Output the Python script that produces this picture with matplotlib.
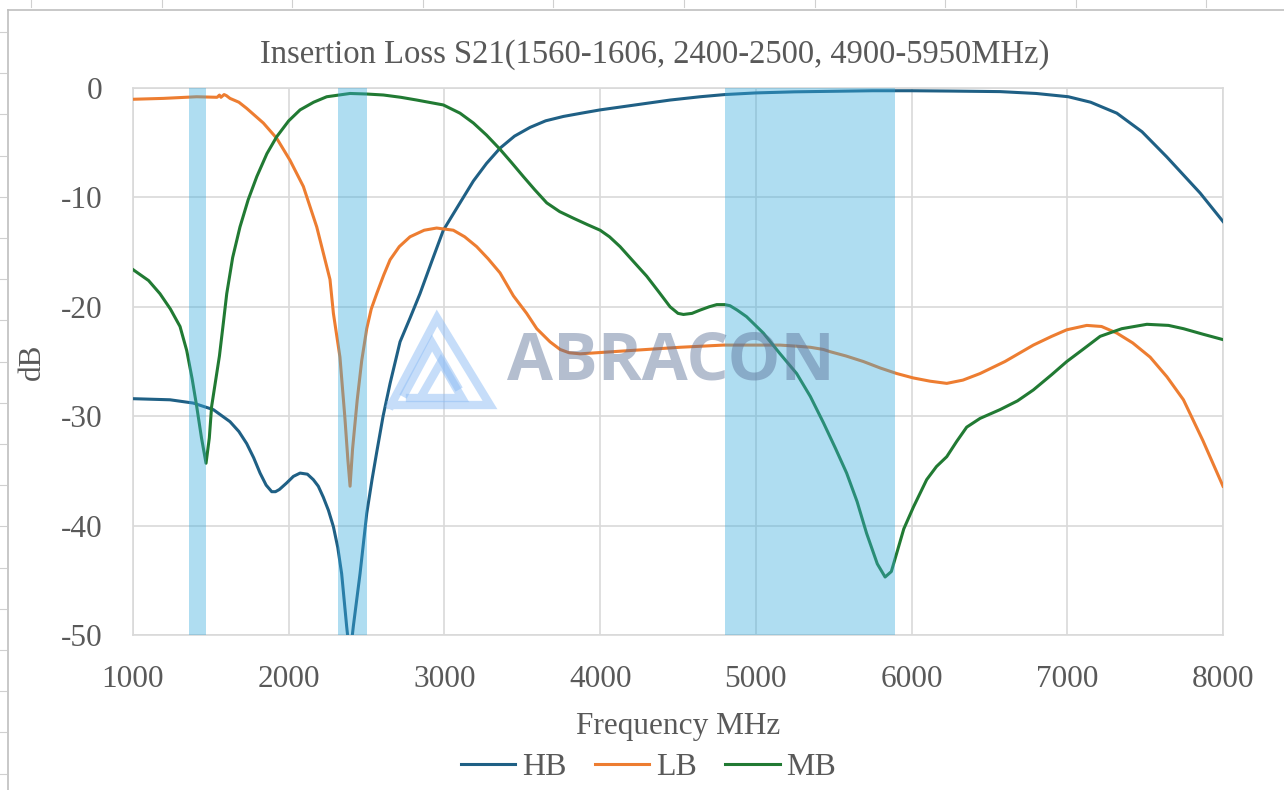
import matplotlib
matplotlib.use("Agg")
import matplotlib.pyplot as plt
from matplotlib.lines import Line2D
import numpy as np

# ---------------- data ----------------
hb_f = [1000, 1238, 1387, 1516, 1623, 1680, 1730, 1775, 1816, 1855, 1891, 1915, 1940, 1987, 2030,
        2073, 2120, 2158, 2190, 2222, 2255, 2287, 2315, 2340, 2372, 2393, 2415, 2458, 2501, 2535,
        2565, 2606, 2651, 2715, 2780, 2843, 2920, 2993, 3100, 3186, 3270, 3357, 3450, 3550, 3650,
        3764, 3880, 4000, 4150, 4299, 4450, 4642, 4800, 5000, 5250, 5500, 5750, 6000, 6250, 6568,
        6800, 7007, 7150, 7318, 7480, 7639, 7853, 8000]
hb_db = [-28.4, -28.5, -28.8, -29.4, -30.5, -31.4, -32.5, -33.8, -35.2, -36.3, -36.9, -36.9, -36.7, -36.1, -35.5,
         -35.2, -35.3, -35.8, -36.4, -37.4, -38.6, -40.1, -42.0, -44.4, -49.2, -52.0, -49.2, -44.4, -38.9, -35.8,
         -33.3, -30.0, -27.0, -23.2, -21.0, -18.8, -15.8, -13.0, -10.5, -8.5, -6.9, -5.5, -4.4, -3.6, -3.0,
         -2.6, -2.3, -2.0, -1.7, -1.4, -1.1, -0.8, -0.6, -0.45, -0.35, -0.3, -0.25, -0.25, -0.28, -0.33,
         -0.5, -0.8, -1.3, -2.3, -4.0, -6.3, -9.6, -12.2]

lb_f = [1000, 1195, 1409, 1540, 1555, 1565, 1585, 1600, 1623, 1680, 1730, 1837, 1923, 2008, 2094,
        2180, 2265, 2287, 2329, 2360, 2380, 2394, 2410, 2440, 2469, 2501, 2530, 2565, 2610, 2651,
        2710, 2779, 2870, 2950, 3057, 3130, 3207, 3280, 3357, 3443, 3528, 3593, 3678, 3743, 3800,
        3871, 4085, 4299, 4513, 4791, 4941, 5155, 5262, 5350, 5434, 5476, 5580, 5690, 5800, 5905,
        6010, 6119, 6226, 6330, 6440, 6600, 6782, 6900, 6997, 7125, 7220, 7318, 7420, 7532, 7640,
        7746, 7870, 8000]
lb_db = [-1.03, -0.95, -0.8, -0.85, -0.65, -0.85, -0.6, -0.7, -0.95, -1.3, -1.86, -3.2, -4.6, -6.6, -9.0,
         -12.7, -17.5, -20.6, -24.6, -30.0, -34.0, -36.4, -33.0, -28.5, -24.9, -22.0, -20.2, -18.8, -17.1, -15.7,
         -14.5, -13.6, -13.0, -12.8, -13.0, -13.6, -14.5, -15.6, -16.9, -19.0, -20.6, -22.0, -23.2, -23.9, -24.2,
         -24.3, -24.1, -23.9, -23.7, -23.5, -23.5, -23.5, -23.6, -23.7, -23.9, -24.1, -24.5, -25.0, -25.6, -26.1,
         -26.5, -26.8, -27.0, -26.7, -26.1, -25.0, -23.5, -22.7, -22.1, -21.7, -21.8, -22.4, -23.3, -24.6, -26.4,
         -28.5, -32.2, -36.4]

mb_f = [1000, 1100, 1173, 1240, 1302, 1345, 1380, 1409, 1440, 1469, 1490, 1505, 1530, 1555, 1580,
        1602, 1640, 1687, 1740, 1795, 1860, 1923, 2000, 2073, 2160, 2244, 2394, 2500, 2608, 2720,
        2822, 2993, 3100, 3186, 3270, 3357, 3430, 3507, 3580, 3657, 3740, 3828, 3920, 4000, 4060,
        4128, 4210, 4299, 4380, 4449, 4500, 4535, 4590, 4642, 4700, 4749, 4800, 4834, 4880, 4940,
        5048, 5150, 5262, 5350, 5434, 5510, 5583, 5650, 5711, 5780, 5830, 5870, 5905, 5950, 6012,
        6097, 6160, 6226, 6290, 6354, 6440, 6568, 6680, 6782, 6900, 6997, 7100, 7211, 7350, 7511,
        7650, 7746, 7870, 8000]
mb_db = [-16.6, -17.6, -18.8, -20.2, -21.8, -24.0, -26.6, -29.1, -32.0, -34.3, -32.0, -29.1, -26.8, -24.5, -21.5,
         -18.8, -15.5, -12.7, -10.2, -8.1, -6.0, -4.45, -3.0, -2.0, -1.3, -0.8, -0.5, -0.55, -0.64, -0.85,
         -1.1, -1.55, -2.3, -3.2, -4.3, -5.6, -6.8, -8.1, -9.3, -10.5, -11.3, -11.9, -12.5, -13.0, -13.6,
         -14.5, -15.8, -17.2, -18.7, -20.0, -20.6, -20.7, -20.6, -20.3, -20.0, -19.8, -19.8, -19.9, -20.3, -20.9,
         -22.4, -24.2, -26.1, -28.2, -30.6, -32.9, -35.2, -37.8, -40.7, -43.5, -44.7, -44.2, -42.5, -40.3, -38.3,
         -35.8, -34.6, -33.7, -32.3, -31.0, -30.2, -29.4, -28.6, -27.6, -26.2, -25.0, -23.9, -22.7, -22.0, -21.6,
         -21.7, -22.0, -22.5, -23.0]

series_names = ["HB", "LB", "MB"]
series_colors = ["#1F6085", "#ED7D31", "#217A33"]
bands = [(1360, 1470), (2317, 2503), (4802, 5894)]

title = "Insertion Loss S21(1560-1606, 2400-2500, 4900-5950MHz)"
x_ticks = [1000, 2000, 3000, 4000, 5000, 6000, 7000, 8000]
y_ticks = [0, -10, -20, -30, -40, -50]

# ---------------- figure ----------------
plt.rcParams["axes.unicode_minus"] = False
W, H = 1284, 790
fig = plt.figure(figsize=(W / 100, H / 100), dpi=100)
serif = ["Liberation Serif", "DejaVu Serif"]
txt_color = "#595959"

# spreadsheet-like chart border and cell ticks
border_c = "#BFBFBF"
fig.add_artist(Line2D([8 / W, 8 / W], [0, 1 - 10 / H], color=border_c, lw=1.2))
fig.add_artist(Line2D([8 / W, 1], [1 - 10 / H, 1 - 10 / H], color=border_c, lw=1.2))
for yy in np.arange(32, H, 41.2):
    fig.add_artist(Line2D([0, 6 / W], [1 - yy / H, 1 - yy / H], color="#D0D0D0", lw=0.8))
for xx in np.arange(31, W, 130.6):
    fig.add_artist(Line2D([xx / W, xx / W], [1, 1 - 7 / H], color="#D0D0D0", lw=0.8))

ax = fig.add_axes([133 / W, 1 - 635 / H, (1223 - 133) / W, (635 - 88) / H])
ax.set_xlim(1000, 8000)
ax.set_ylim(-50, 0)
ax.set_xticks(x_ticks)
ax.set_yticks(y_ticks)
ax.grid(True, color="#D9D9D9", lw=1.2, zorder=0)
ax.set_axisbelow(True)
for s in ax.spines.values():
    s.set_color("#D9D9D9")
    s.set_linewidth(1.2)
ax.tick_params(length=0, labelsize=22.5, labelcolor=txt_color)
ax.tick_params(axis="x", pad=21.5)
ax.tick_params(axis="y", pad=22)
for lab in ax.get_xticklabels() + ax.get_yticklabels():
    lab.set_family(serif)

handles = []
for f, d, name, col in zip([hb_f, lb_f, mb_f], [hb_db, lb_db, mb_db], series_names, series_colors):
    h, = ax.plot(f, d, color=col, lw=2.2, label=name, zorder=3, solid_joinstyle="round")
    handles.append(h)

for a, b in bands:
    ax.axvspan(a, b, color="#39ACDE", alpha=0.4, lw=0, zorder=4)

# watermark
def px(x, y):
    return ((x - 133) / 1090, (635 - y) / 547)

logo_c = "#8EBDF5"
outer = [px(391, 405), px(437, 318), px(490, 405), px(391, 405)]
inner = [px(405, 393), px(432, 343), px(457, 386)]
inner2 = [px(422, 395), px(441, 362), px(462, 398), px(410, 398)]
for pts in (outer, inner, inner2):
    xs, ys = zip(*pts)
    ax.plot(xs, ys, transform=ax.transAxes, color=logo_c, lw=6, alpha=0.5,
            solid_joinstyle="miter", zorder=5, clip_on=False)
cx, cy = px(671, 362)
ax.text(cx, cy, "ABRACON", transform=ax.transAxes, ha="center", va="center",
        fontsize=48, fontweight="bold", family=["Open Sans", "DejaVu Sans"],
        color="#5A6F96", alpha=0.45, zorder=5)

ax.set_title(title, family=serif, fontsize=23.5, color=txt_color, pad=18,
             x=(655 - 133) / 1090)
ax.set_xlabel("Frequency MHz", family=serif, fontsize=22.5, color=txt_color, labelpad=13)
ax.set_ylabel("dB", family=serif, fontsize=22.5, color=txt_color, labelpad=10)

leg = fig.legend(handles=handles, labels=series_names, loc="center",
                 bbox_to_anchor=(0.505, 1 - 767 / H), ncol=3, frameon=False,
                 prop={"family": serif, "size": 23}, handlelength=1.7,
                 handletextpad=0.2, columnspacing=0.9)
for t in leg.get_texts():
    t.set_color(txt_color)

fig.savefig("out.png", dpi=100)
